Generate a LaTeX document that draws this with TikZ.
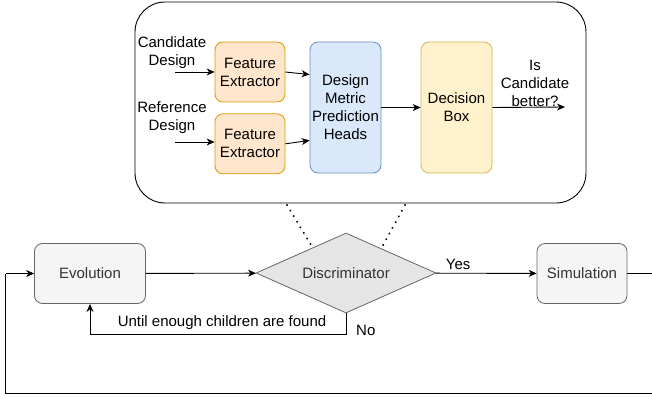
\documentclass[tikz,border=0pt]{standalone}
\usepackage{fontspec}
\setmainfont{Liberation Sans}
\usetikzlibrary{arrows.meta,positioning,shapes.geometric,calc}

\definecolor{feFill}{HTML}{FFE6CC}
\definecolor{feDraw}{HTML}{D79B00}
\definecolor{headFill}{HTML}{DAE8FC}
\definecolor{headDraw}{HTML}{6C8EBF}
\definecolor{decFill}{HTML}{FFF2CC}
\definecolor{decDraw}{HTML}{D6B656}
\definecolor{flowFill}{HTML}{F5F5F5}
\definecolor{flowDraw}{HTML}{666666}
\definecolor{flowText}{HTML}{333333}

\begin{document}
\begin{tikzpicture}[
    x=1pt, y=-1pt,
    every node/.style={font=\fontsize{15}{18}\selectfont, align=center, inner sep=1pt},
    block/.style={rectangle, draw, rounded corners=8pt, line width=0.8pt},
    extractor/.style={block, fill=feFill, draw=feDraw, minimum width=70pt, minimum height=60pt},
    heads/.style={block, fill=headFill, draw=headDraw, minimum width=71pt, minimum height=131pt},
    decision/.style={block, fill=decFill, draw=decDraw, minimum width=71pt, minimum height=131pt},
    flow/.style={block, fill=flowFill, draw=flowDraw, text=flowText, minimum height=60pt},
    arrow/.style={-{Stealth[length=8pt,width=7pt,inset=2.5pt]}, line width=0.9pt},
    link/.style={line width=0.9pt},
    dots/.style={line width=2.2pt, dash pattern=on 0.01pt off 6.5pt, line cap=round}
]
\useasboundingbox (0,0) rectangle (652,398);

% Discriminator internals
\node[draw, rounded corners=30pt, line width=0.9pt, minimum width=451pt, minimum height=201pt] (dbox) at (360.5,102.5) {};
\node[extractor] (fe1) at (250,72) {Feature\\Extractor};
\node[extractor, below=11pt of fe1] (fe2) {Feature\\Extractor};
\node[heads] (dmph) at (345.5,107.5) {Design\\Metric\\Prediction\\Heads};
\node[decision] (dec) at (456.5,107.5) {Decision\\Box};

\node (cand) at (172,53) {Candidate\\Design};
\node (ref) at (172,118) {Reference\\Design};
\node (better) at (535,83) {Is\\Candidate\\better?};

\coordinate (cand-in) at (175,72);
\coordinate (ref-in) at (175,142);
\coordinate (out) at (565,107);

% Arrows inside
\draw[arrow] (cand-in) -- (fe1.west);
\draw[arrow] (ref-in) -- (ref-in -| fe2.west);
\draw[arrow] (fe1.east) -- ($(dmph.north west)!0.25!(dmph.south west)$);
\draw[arrow] (fe2.east) -- ($(dmph.north west)!0.75!(dmph.south west)$);
\draw[arrow] (dmph) -- (dec);
\draw[arrow] (dec.east) -- (out);

% Main loop
\node[flow, minimum width=111pt] (evo) at (90,273.5) {Evolution};
\node[diamond, draw=flowDraw, fill=black!10, line width=0.8pt, text=flowText, aspect=2.25,
      minimum width=180pt, minimum height=80pt, inner sep=0pt] (disc) at (346,273) {Discriminator};
\node[flow, minimum width=90pt] (sim) at (582,273.5) {Simulation};

% Dotted zoom lines
\draw[dots] (287,205) -- ($(disc.west)!0.63!(disc.north)$);
\draw[dots] (405,205) -- ($(disc.north)!0.39!(disc.east)$);

% Arrows
\draw[arrow] (evo) -- (disc);
\draw[arrow] (disc) -- node[above, pos=0.22, yshift=2pt] (yes) {Yes} (sim);
\coordinate (no-turn) at (346,334);
\draw[arrow] (disc.south) -- (no-turn) -- (no-turn -| evo.south) -- (evo.south);
\node[anchor=base] (until) at (222,326) {Until enough children are found};
\node[anchor=base west] (no) at (355,335) {No};
\coordinate (loop-r) at (660,273.5);
\coordinate (loop-br) at (660,393);
\coordinate (loop-bl) at (5.5,393);
\coordinate (loop-l) at (5.5,273.5);
\draw[link] (sim.east) -- (loop-r) -- (loop-br) -- (loop-bl) -- (loop-l);
\draw[arrow] (loop-l) -- (evo.west);

\end{tikzpicture}
\end{document}
